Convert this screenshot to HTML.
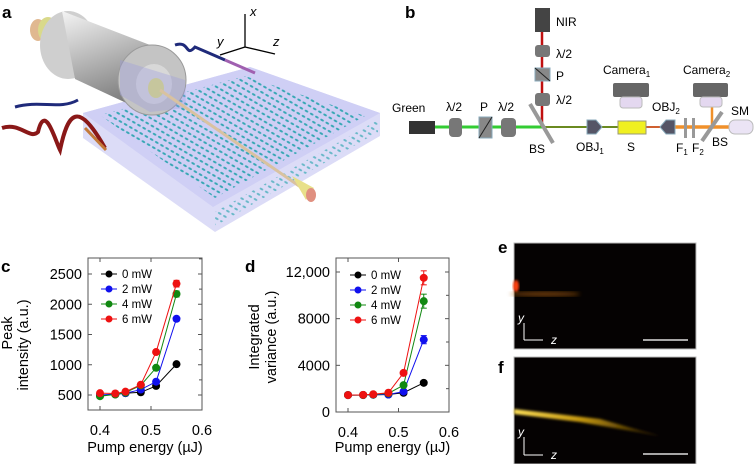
<!DOCTYPE html>
<html><head><meta charset="utf-8"><style>
html,body{margin:0;padding:0;background:#fff;}
svg{display:block;font-family:"Liberation Sans",Arial,sans-serif;}
</style></head><body>
<svg id="fig" width="755" height="464" viewBox="0 0 755 464">
<defs>
<linearGradient id="cyl" x1="0" y1="0" x2="0.3" y2="1"><stop offset="0" stop-color="#f4f4f4"/><stop offset="0.4" stop-color="#c4c4c4"/><stop offset="1" stop-color="#7a7a7a"/></linearGradient>
<pattern id="dots" width="6" height="6" patternUnits="userSpaceOnUse" patternTransform="rotate(-60)"><ellipse cx="3" cy="3" rx="1" ry="2" fill="#1aa0a8"/></pattern>
<linearGradient id="beamf" x1="0" y1="0" x2="1" y2="0.2"><stop offset="0" stop-color="#ffe25a"/><stop offset="0.5" stop-color="#c89a10"/><stop offset="1" stop-color="#3a2800"/></linearGradient>
<filter id="blur2"><feGaussianBlur stdDeviation="2"/></filter>
<filter id="blur1"><feGaussianBlur stdDeviation="1.2"/></filter>
</defs>

<!-- Panel a -->
<g>
<text x="2" y="18" font-size="17" font-weight="bold">a</text>
<polygon points="83,113 250,67 380,113 380,136 215,232 83,138" fill="#dcdcf7"/>
<polygon points="83,113 250,67 380,113 213,207" fill="#cfcff5"/>
<polygon points="100,115 245,76 365,116 215,198" fill="url(#dots)" opacity="0.85"/>
<polygon points="215,212 378,120 378,132 215,226" fill="url(#dots)" opacity="0.6"/>
<path d="M2,128 C20,122 30,140 38,132 C45,102 55,140 60,150 C68,112 78,100 105,148" stroke="#8a1818" stroke-width="4" fill="none"/>
<line x1="85" y1="128" x2="106" y2="150" stroke="#c47a3a" stroke-width="3"/>
<path d="M15,107 C40,100 60,110 78,100" stroke="#1f2a7a" stroke-width="3" fill="none"/>
<path d="M175,45 C190,40 185,58 195,47 L225,60" stroke="#1f2a7a" stroke-width="3" fill="none"/>
<line x1="225" y1="60" x2="255" y2="73" stroke="#a060b0" stroke-width="3"/>
<ellipse cx="38" cy="30" rx="8" ry="11" fill="#e0b890"/>
<ellipse cx="48" cy="30" rx="10" ry="13" fill="#d9d98a"/>
<ellipse cx="68" cy="45" rx="28" ry="34" fill="#cfcfcf"/>
<polygon points="62,11 140,45 160,115 80,80" fill="url(#cyl)"/>
<polygon points="62,11 150,45 152,115 75,79" fill="url(#cyl)"/>
<ellipse cx="152" cy="80" rx="34" ry="35" fill="#c4c4c4" stroke="#9a9a9a"/>
<ellipse cx="154" cy="84" rx="18" ry="20" fill="#d8d8d8"/>
<ellipse cx="156" cy="88" rx="8" ry="10" fill="#dede7a"/>
<polygon points="120,60 185,80 186,108 150,112 120,95" fill="#9a9ae0" opacity="0.35"/>
<line x1="160" y1="90" x2="305" y2="190" stroke="#d9c2a0" stroke-width="3"/>
<polygon points="292,176 314,188 306,200" fill="#e8e08a"/>
<ellipse cx="311" cy="195" rx="5" ry="7" fill="#e09080"/>
<g stroke="#000" stroke-width="1.3" fill="none">
<line x1="245" y1="47" x2="245" y2="14"/><line x1="245" y1="47" x2="275" y2="54"/><line x1="245" y1="47" x2="220" y2="55"/>
</g>
<text x="250" y="16" font-size="13" font-style="italic">x</text>
<text x="273" y="46" font-size="13" font-style="italic">z</text>
<text x="217" y="46" font-size="13" font-style="italic">y</text>
</g>

<!-- Panel b -->
<g font-size="12">
<text x="405" y="18" font-size="17" font-weight="bold">b</text>
<line x1="435" y1="127" x2="542" y2="127" stroke="#33cc33" stroke-width="3"/>
<line x1="542" y1="32" x2="542" y2="127" stroke="#c01010" stroke-width="2.5"/>
<line x1="542" y1="127" x2="618" y2="127" stroke="#6a8a20" stroke-width="2"/>
<line x1="646" y1="127" x2="660" y2="127" stroke="#d06030" stroke-width="2"/>
<line x1="675" y1="127" x2="729" y2="127" stroke="#f0902a" stroke-width="3.5"/>
<line x1="712" y1="106" x2="712" y2="127" stroke="#f0902a" stroke-width="2.5"/>
<rect x="409" y="121" width="26" height="13" fill="#333"/>
<rect x="449" y="118" width="13" height="19" rx="4" fill="#777"/>
<rect x="479" y="117" width="13" height="21" fill="#888" stroke="#8ab" /><line x1="479" y1="138" x2="492" y2="117" stroke="#222"/>
<rect x="501" y="118" width="15" height="19" rx="4" fill="#777"/>
<line x1="530" y1="104" x2="553" y2="143" stroke="#999" stroke-width="4"/>
<rect x="535" y="8" width="15" height="24" fill="#444"/>
<rect x="535" y="45" width="15" height="12" rx="3" fill="#777"/>
<rect x="535" y="68" width="15" height="13" fill="#888" stroke="#8ab"/><line x1="535" y1="68" x2="550" y2="81" stroke="#222"/>
<rect x="535" y="93" width="15" height="13" rx="3" fill="#777"/>
<polygon points="587,120 596,120 602,127 596,134 587,134" fill="#556" stroke="#8ab"/>
<rect x="618" y="121" width="28" height="13" fill="#f0f020" stroke="#997"/>
<polygon points="675,120 666,120 660,127 666,134 675,134" fill="#556" stroke="#8ab"/>
<rect x="613" y="83" width="36" height="14" rx="2" fill="#666"/>
<rect x="620" y="97" width="22" height="11" rx="3" fill="#e4d8f0" stroke="#bbb"/>
<rect x="693" y="83" width="35" height="14" rx="2" fill="#666"/>
<rect x="700" y="97" width="22" height="10" rx="3" fill="#e4d8f0" stroke="#bbb"/>
<rect x="684" y="118" width="3" height="20" fill="#999"/><rect x="692" y="118" width="3" height="20" fill="#999"/>
<line x1="702" y1="141" x2="722" y2="112" stroke="#999" stroke-width="4"/>
<rect x="729" y="120" width="24" height="14" rx="6" fill="#ebe4f5" stroke="#bbb"/>
<text x="392" y="112">Green</text><text x="446" y="111">λ/2</text><text x="480" y="111">P</text><text x="498" y="111">λ/2</text>
<text x="529" y="153">BS</text><text x="556" y="26">NIR</text><text x="556" y="58">λ/2</text><text x="556" y="80">P</text><text x="556" y="104">λ/2</text>
<text x="576" y="151">OBJ<tspan font-size="8" dy="3">1</tspan></text><text x="627" y="151">S</text>
<text x="652" y="111">OBJ<tspan font-size="8" dy="3">2</tspan></text>
<text x="603" y="74">Camera<tspan font-size="8" dy="3">1</tspan></text><text x="683" y="74">Camera<tspan font-size="8" dy="3">2</tspan></text>
<text x="676" y="152">F<tspan font-size="8" dy="3">1</tspan></text><text x="692" y="152">F<tspan font-size="8" dy="3">2</tspan></text>
<text x="712" y="146">BS</text><text x="731" y="115">SM</text>
</g>

<!-- Panels e/f -->
<g>
<text x="498" y="253" font-size="17" font-weight="bold">e</text>
<rect x="514" y="243" width="182" height="106" fill="#050202" stroke="#bbb"/>
<ellipse cx="516" cy="286" rx="3" ry="6" fill="#ff4010" filter="url(#blur1)"/>
<ellipse cx="545" cy="294" rx="35" ry="2.5" fill="#b06010" opacity="0.6" filter="url(#blur2)"/>
<g stroke="#fff" fill="none" stroke-width="1"><line x1="524" y1="340" x2="524" y2="323"/><line x1="524" y1="340" x2="543" y2="340"/></g>
<text x="518" y="322" font-size="12" fill="#fff" font-style="italic">y</text><text x="551" y="344" font-size="12" fill="#fff" font-style="italic">z</text>
<line x1="643" y1="340" x2="688" y2="340" stroke="#ddd" stroke-width="1.5"/>
</g>
<g>
<text x="498" y="373" font-size="17" font-weight="bold">f</text>
<rect x="514" y="357" width="182" height="107" fill="#050202" stroke="#bbb"/>
<polygon points="514,409 514,414 580,422 660,436 600,419" fill="url(#beamf)" filter="url(#blur1)"/>
<g stroke="#fff" fill="none" stroke-width="1"><line x1="524" y1="455" x2="524" y2="437"/><line x1="524" y1="455" x2="543" y2="455"/></g>
<text x="518" y="436" font-size="12" fill="#fff" font-style="italic">y</text><text x="551" y="459" font-size="12" fill="#fff" font-style="italic">z</text>
<line x1="643" y1="454" x2="688" y2="454" stroke="#ddd" stroke-width="1.5"/>
</g>

<text x="1" y="272" font-size="17" font-weight="bold">c</text>
<text x="245" y="272" font-size="17" font-weight="bold">d</text>
<g id="chartC"></g>
<g id="chartD"></g>
</svg>
<script>
const energies = [0.40, 0.43, 0.45, 0.48, 0.51, 0.55];
const seriesNames = ["0 mW", "2 mW", "4 mW", "6 mW"];
const seriesColors = ["#000000", "#1010ee", "#118811", "#ee1111"];
const peak0 = [490, 510, 530, 545, 650, 1010];
const peak2 = [500, 515, 530, 590, 720, 1760];
const peak4 = [480, 510, 540, 660, 950, 2170];
const peak6 = [530, 525, 555, 670, 1210, 2340];
const peakErr = [0, 40, 50, 55];
const var0 = [1450, 1450, 1480, 1500, 1650, 2500];
const var2 = [1450, 1460, 1480, 1500, 1750, 6200];
const var4 = [1450, 1460, 1500, 1600, 2300, 9500];
const var6 = [1450, 1470, 1520, 1650, 3350, 11500];
const varErr = [0, 350, 600, 600];
const xTicks = [0.4, 0.5, 0.6];
const xTickLabels = ["0.4", "0.5", "0.6"];
const peakTicks = [500, 1000, 1500, 2000, 2500];
const peakTickLabels = ["500", "1000", "1500", "2000", "2500"];
const varTicks = [0, 4000, 8000, 12000];
const varTickLabels = ["0", "4000", "8000", "12,000"];

const NS = "http://www.w3.org/2000/svg";
function mk(tag, attrs, parent){const e=document.createElementNS(NS,tag);for(const k in attrs)e.setAttribute(k,attrs[k]);parent.appendChild(e);return e;}

function drawChart(g, cfg){
  const {box, xs, ys, data, errs, yTicks, yLabels, titles, legend, minorStep} = cfg;
  const frame = mk('rect',{x:box[0],y:box[1],width:box[2]-box[0],height:box[3]-box[1],fill:'none',stroke:'#555','stroke-width':1},g);
  
  
  xTicks.forEach((t,i)=>{
    const x=xs(t);
    mk('line',{x1:x,y1:box[3],x2:x,y2:box[3]-4,stroke:'#555'},g);
    mk('line',{x1:x,y1:box[1],x2:x,y2:box[1]+4,stroke:'#555'},g);
    const tx=mk('text',{x:x,y:box[3]+25,'font-size':14.5,'text-anchor':'middle'},g);
    tx.textContent=xTickLabels[i];
    
    
  });
  yTicks.forEach((t,i)=>{
    const y=ys(t);
    mk('line',{x1:box[0],y1:y,x2:box[0]+4,y2:y,stroke:'#555'},g);
    mk('line',{x1:box[2],y1:y,x2:box[2]-4,y2:y,stroke:'#555'},g);
    const hy=ys(t+minorStep);
    if(hy>box[1]) mk('line',{x1:box[2],y1:hy,x2:box[2]-3,y2:hy,stroke:'#555'},g);
    const tx=mk('text',{x:box[0]-6,y:y+5,'font-size':14.5,'text-anchor':'end'},g);
    tx.textContent=yLabels[i];
    
    
  });
  const xt=mk('text',{x:(box[0]+box[2])/2,y:452,'font-size':14.5,'text-anchor':'middle'},g);
  xt.textContent='Pump energy (µJ)';
  
  
  titles.forEach(tt=>{
    const t=mk('text',{x:0,y:0,'font-size':14.5,'text-anchor':'middle',transform:`translate(${tt[1]},${tt[2]}) rotate(-90)`},g);
    t.textContent=tt[0];
    
    
  });
  data.forEach((vals,si)=>{
    const c=seriesColors[si];
    const pts=vals.map((v,i)=>xs(energies[i])+','+ys(v)).join(' ');
    const pl=mk('polyline',{points:pts,fill:'none',stroke:c,'stroke-width':1},g);
    
    
    const e=errs[si];
    if(e>0){
      const last=vals.length-1, x=xs(energies[last]);
      mk('line',{x1:x,y1:ys(vals[last]-e),x2:x,y2:ys(vals[last]+e),stroke:c},g);
      mk('line',{x1:x-3,y1:ys(vals[last]+e),x2:x+3,y2:ys(vals[last]+e),stroke:c},g);
      mk('line',{x1:x-3,y1:ys(vals[last]-e),x2:x+3,y2:ys(vals[last]-e),stroke:c},g);
    }
    vals.forEach((v,i)=>{
      const p=mk('circle',{cx:xs(energies[i]),cy:ys(v),r:4,fill:c},g);
      
      
    });
    const ly=legend[1]+si*15;
    mk('line',{x1:legend[0],y1:ly,x2:legend[0]+16,y2:ly,stroke:c},g);
    mk('circle',{cx:legend[0]+8,cy:ly,r:3.5,fill:c},g);
    const lt=mk('text',{x:legend[0]+21,y:ly+4,'font-size':11.5},g);
    lt.textContent=seriesNames[si];
    
    
  });
}
drawChart(document.getElementById('chartC'),{
  box:[88,258,202,410],
  xs:v=>100+(v-0.4)*510,
  ys:v=>395-(v-500)*0.0605,
  data:[peak0,peak2,peak4,peak6], errs:peakErr,
  yTicks:peakTicks, yLabels:peakTickLabels, minorStep:250,
  titles:[["Peak",12,333],["intensity (a.u.)",28,345]],
  legend:[101,274]
});
drawChart(document.getElementById('chartD'),{
  box:[336,258,449,412],
  xs:v=>348+(v-0.4)*505,
  ys:v=>412-v*0.011667,
  data:[var0,var2,var4,var6], errs:varErr,
  yTicks:varTicks, yLabels:varTickLabels, minorStep:2000,
  titles:[["Integrated",259,337],["variance (a.u.)",276,337]],
  legend:[350,275]
});
</script>
</body></html>
